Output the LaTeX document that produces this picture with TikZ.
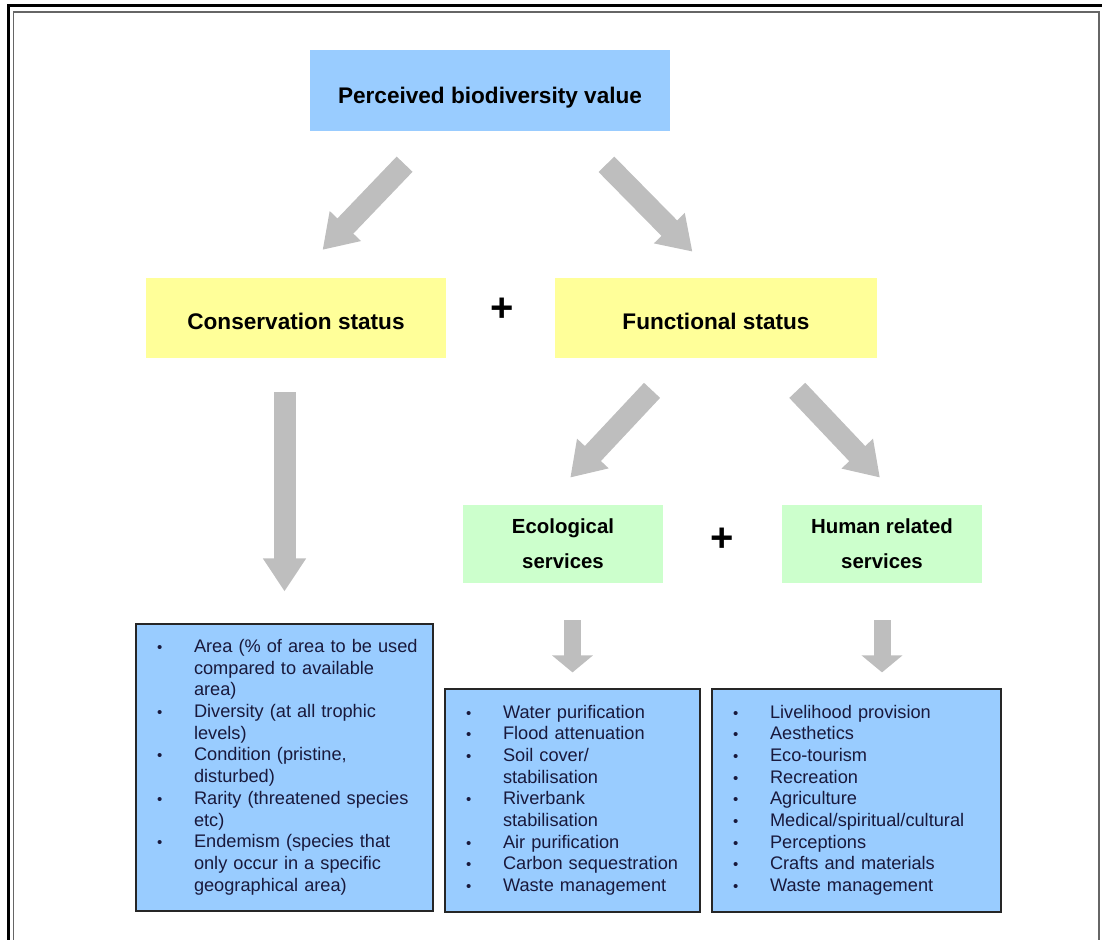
\documentclass[tikz,border=0pt]{standalone}
\usepackage{fontspec}
\setmainfont{Liberation Sans}
\usepackage{xcolor}
\usetikzlibrary{arrows.meta,calc}

\definecolor{boxblue}{RGB}{153,204,255}
\definecolor{boxyellow}{RGB}{255,255,153}
\definecolor{boxgreen}{RGB}{204,255,204}
\definecolor{arrowgray}{RGB}{190,190,190}
\definecolor{listtext}{RGB}{25,25,60}

\newcommand{\bul}{{\fontsize{7.5}{7.5}\selectfont\textbullet}}

\begin{document}
\begin{tikzpicture}[x=0.5pt, y=-0.5pt,
    head/.style={rectangle, fill=boxblue, minimum width=180pt, minimum height=40.5pt, text height=15.25pt, text depth=2.4pt, font=\fontsize{11.3}{13.6}\selectfont\bfseries},
    status/.style={rectangle, fill=boxyellow, minimum width=150pt, minimum height=40pt, text height=11.2pt, text depth=0pt, font=\fontsize{11.3}{13.6}\selectfont\bfseries},
    service/.style={rectangle, fill=boxgreen, minimum width=100pt, minimum height=39pt, align=center, font=\fontsize{10.2}{17.5}\selectfont\bfseries},
    list/.style={rectangle, draw=black!85, line width=0.6pt, fill=boxblue, inner xsep=10.5pt, inner ysep=0pt, align=left, text=listtext, font=\fontsize{9.1}{10.85}\selectfont},
    plus/.style={font=\fontsize{20}{20}\selectfont\bfseries},
    bigarrow/.style={draw=arrowgray, line width=11pt, -{Triangle[width=20.5pt,length=16.5pt]}},
    smallarrow/.style={draw=arrowgray, line width=8.5pt, -{Triangle[width=20pt,length=8.5pt]}}]

    \useasboundingbox (0,0) rectangle (1102,940);

    % Frame
    \draw [line width=1.5pt] (8,940) -- (8,6) -- (1102,6);
    \draw [black!60, line width=0.6pt] (13.5,940) -- (13.5,12) -- (1099,12) -- (1099,940);

    % Nodes
    \node [head] (top) at (490,90.5) {Perceived biodiversity value};
    \node [status, below of=top, node distance=113.75pt, xshift=-97pt] (cons) {Conservation status};
    \node [status, right of=cons, node distance=210pt, minimum width=161pt] (func) {Functional status};
    \node [plus, right of=cons, node distance=103pt, yshift=4pt] (plusa) {+};
    \node [service, below of=func, node distance=113pt, xshift=-76.5pt] (eco) {Ecological\\services};
    \node [service, right of=eco, node distance=159.5pt] (human) {Human related\\services};
    \node [plus, right of=eco, node distance=79.5pt, yshift=2pt] (plusb) {+};

    \node [list, below of=cons, node distance=224.75pt, xshift=-5.75pt, text width=127.5pt, minimum height=143.5pt] (consbox) {%
      \begin{tabular}{@{}p{18.5pt}@{}l@{}}
        \bul & Area (\% of area to be used\\
             & compared to available\\
             & area)\\
        \bul & Diversity (at all trophic\\
             & levels)\\
        \bul & Condition (pristine,\\
             & disturbed)\\
        \bul & Rarity (threatened species\\
             & etc)\\
        \bul & Endemism (species that\\
             & only occur in a specific\\
             & geographical area)
      \end{tabular}};
    \node [list, below of=eco, node distance=128.25pt, xshift=4.75pt, text width=106.5pt, minimum height=111.5pt] (ecobox) {%
      \begin{tabular}{@{}p{18.5pt}@{}l@{}}
        \bul & Water purification\\
        \bul & Flood attenuation\\
        \bul & Soil cover/\\
             & stabilisation\\
        \bul & Riverbank\\
             & stabilisation\\
        \bul & Air purification\\
        \bul & Carbon sequestration\\
        \bul & Waste management
      \end{tabular}};
    \node [list, below of=human, node distance=128.25pt, xshift=-12.75pt, text width=123.5pt, minimum height=111.5pt] (humanbox) {%
      \begin{tabular}{@{}p{18.5pt}@{}l@{}}
        \bul & Livelihood provision\\
        \bul & Aesthetics\\
        \bul & Eco-tourism\\
        \bul & Recreation\\
        \bul & Agriculture\\
        \bul & Medical/spiritual/cultural\\
        \bul & Perceptions\\
        \bul & Crafts and materials\\
        \bul & Waste management
      \end{tabular}};

    % Paths
    \path [bigarrow, shorten <=22.7pt, shorten >=19.2pt] ($(top.south)+(-54,0)$) -- (cons.north);
    \path [bigarrow, shorten <=23.1pt, shorten >=18.2pt] ($(top.south)+(84,0)$) -- ($(func.north)+(2,0)$);
    \path [bigarrow, shorten <=17pt, shorten >=16pt] (consbox.north |- cons.south) -- (consbox.north);
    \path [bigarrow, shorten <=21.9pt, shorten >=18.5pt] ($(func.south)+(-34,0)$) -- ($(eco.north)+(-18,0)$);
    \path [bigarrow, shorten <=22pt, shorten >=18.6pt] ($(func.south)+(51,0)$) -- ($(human.north)+(23.5,0)$);
    \path [smallarrow, shorten <=18.5pt, shorten >=8pt] (ecobox.north |- eco.south) -- (ecobox.north);
    \path [smallarrow, shorten <=18.5pt, shorten >=8pt] (human.south) -- (human.south |- humanbox.north);

\end{tikzpicture}
\end{document}
